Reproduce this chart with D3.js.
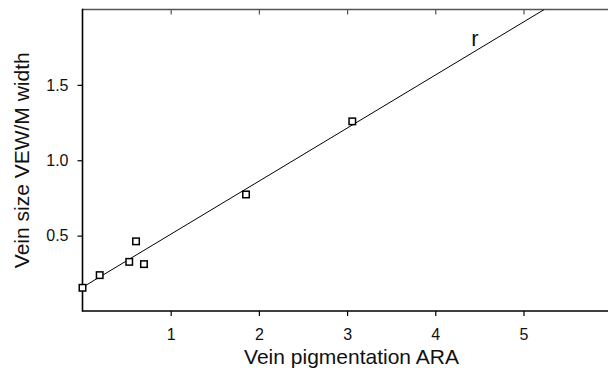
<!DOCTYPE html>
<html>
<head>
<meta charset="utf-8">
<script src="https://cdn.jsdelivr.net/npm/d3@7"></script>
<style>
  html, body { margin: 0; padding: 0; background: #fff; }
  svg { display: block; font-family: "Liberation Sans", Arial, sans-serif; }
</style>
</head>
<body>
<svg id="chart" width="608" height="378"></svg>
<script>
// Data
const pigmentation = [0.0, 0.195, 0.53, 0.607, 0.697, 1.854, 3.059];
const veinSize     = [0.154, 0.238, 0.326, 0.462, 0.311, 0.773, 1.258];
const fitIntercept = 0.157;
const fitSlope = 0.352;
const xTicks = [1, 2, 3, 4, 5];
const yTicks = [0.5, 1.0, 1.5];
const lineLabel = "r";
const labelAt = [4.45, 1.76];
const xTitle = "Vein pigmentation ARA";
const yTitle = "Vein size VEW/M width";

(function () {
const svg = d3.select("#chart");
const mLeft = 82.5, mRight = 620.5, mTop = 9.5, mBottom = 311;

const x = d3.scaleLinear().domain([0, 6.1]).range([mLeft, mRight]);
const y = d3.scaleLinear().domain([0, 2]).range([mBottom, mTop]);

svg.append("defs").append("clipPath").attr("id", "clip")
  .append("rect").attr("x", mLeft).attr("y", mTop)
  .attr("width", mRight - mLeft).attr("height", mBottom - mTop);

// Bottom axis
const xAxis = svg.append("g").attr("transform", `translate(0,${mBottom})`)
  .call(d3.axisBottom(x).tickValues(xTicks).tickSize(5).tickPadding(12.5).tickFormat(d3.format("d")));
xAxis.select(".domain").remove();
xAxis.selectAll(".tick line").attr("stroke", "#000").attr("stroke-width", 1.2);
xAxis.selectAll(".tick text").attr("font-size", 16).attr("fill", "#111")
  .attr("font-family", "'Liberation Sans', Arial, sans-serif");

// Top inward ticks
const xTop = svg.append("g").attr("transform", `translate(0,${mTop})`)
  .call(d3.axisBottom(x).tickValues(xTicks).tickSize(5).tickFormat(""));
xTop.select(".domain").remove();
xTop.selectAll(".tick line").attr("stroke", "#555").attr("stroke-width", 1.2);

// Left axis
const yAxis = svg.append("g").attr("transform", `translate(${mLeft},0)`)
  .call(d3.axisLeft(y).tickValues(yTicks).tickSize(5).tickPadding(9).tickFormat(d3.format(".1f")));
yAxis.select(".domain").remove();
yAxis.selectAll(".tick line").attr("stroke", "#000").attr("stroke-width", 1.2);
yAxis.selectAll(".tick text").attr("font-size", 16).attr("fill", "#111")
  .attr("font-family", "'Liberation Sans', Arial, sans-serif");

// Frame
svg.append("line").attr("x1", mLeft).attr("x2", mRight + 10).attr("y1", mTop).attr("y2", mTop)
  .attr("stroke", "#555").attr("stroke-width", 1.6);
svg.append("line").attr("x1", mLeft).attr("x2", mRight + 10).attr("y1", mBottom).attr("y2", mBottom)
  .attr("stroke", "#000").attr("stroke-width", 1.6);
svg.append("line").attr("x1", mLeft).attr("x2", mLeft).attr("y1", mTop - 0.8).attr("y2", mBottom + 0.8)
  .attr("stroke", "#000").attr("stroke-width", 1.6);

// Fit line
const xEnd = (y.domain()[1] - fitIntercept) / fitSlope;
svg.append("line").attr("clip-path", "url(#clip)")
  .attr("x1", x(0)).attr("y1", y(fitIntercept))
  .attr("x2", x(xEnd)).attr("y2", y(fitIntercept + fitSlope * xEnd))
  .attr("stroke", "#000").attr("stroke-width", 1);

// Points
const pts = pigmentation.map((v, i) => [v, veinSize[i]]);
const s = 6.5;
svg.append("g").selectAll("rect").data(pts).join("rect")
  .attr("x", d => x(d[0]) - s / 2).attr("y", d => y(d[1]) - s / 2)
  .attr("width", s).attr("height", s)
  .attr("fill", "#fff").attr("stroke", "#000").attr("stroke-width", 1.5);

// Line label
svg.append("text").attr("x", x(labelAt[0])).attr("y", y(labelAt[1]))
  .attr("text-anchor", "middle").attr("font-size", 22).attr("fill", "#111").text(lineLabel);

// Axis titles
svg.append("text").attr("x", 351.5).attr("y", 364).attr("text-anchor", "middle")
  .attr("font-size", 21).attr("fill", "#111").text(xTitle);
svg.append("text").attr("transform", `translate(29,${(mTop + mBottom) / 2}) rotate(-90)`)
  .attr("text-anchor", "middle").attr("font-size", 21).attr("fill", "#111").text(yTitle);
})();
</script>
</body>
</html>
